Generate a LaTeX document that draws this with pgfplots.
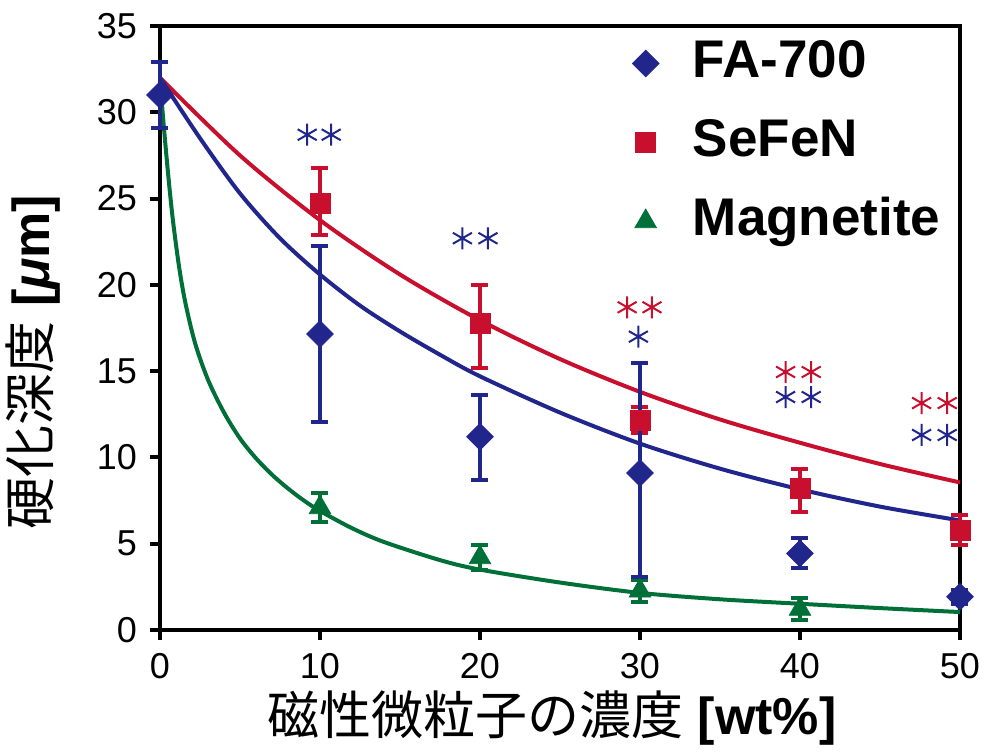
\documentclass[border=0pt]{standalone}
\usepackage{pgfplots}
\pgfplotsset{compat=1.18}
\usepackage{fontspec}
\setmainfont{Liberation Sans}
\newfontfamily\jp{Noto Sans CJK JP}
\definecolor{cblue}{RGB}{32,38,140}
\definecolor{cred}{RGB}{200,16,46}
\definecolor{cgreen}{RGB}{0,112,56}
\pgfplotsset{myerr/.style={error bars/y dir=both, error bars/y explicit, error bars/error mark=|,
  error bars/error bar style={line width=2pt},
  error bars/error mark options={line width=2pt, mark size=4.25pt}}}
\begin{document}
\begin{tikzpicture}
\useasboundingbox (-80pt,-60.5pt) rectangle (413.5pt,315pt);
\begin{axis}[
  at={(0,0)}, anchor=south west,
  scale only axis, width=400pt, height=302pt,
  xmin=0, xmax=50, ymin=0, ymax=35,
  xtick={0,10,...,50}, ytick={0,5,...,35},
  xtick pos=bottom, ytick pos=left,
  tick align=outside, major tick length=5pt,
  axis line style={line width=2pt},
  every tick/.style={black, line width=2pt},
  /pgf/number format/assume math mode=true,
  tick label style={font=\fontsize{18}{20}\selectfont},
  yticklabel style={xshift=-3pt},
  xticklabel style={yshift=-3pt},
  xlabel={\fontsize{26}{30}\selectfont{\jp 磁性微粒子の濃度} \textbf{[wt\%]}},
  ylabel={\fontsize{26}{30}\selectfont{\jp 硬化深度} \textbf{[\textit{μ}m]}},
  xlabel style={at={(axis description cs:0.49,-0.1457)}, anchor=center},
  ylabel style={at={(axis description cs:-0.15875,0.4437)}, anchor=center},
  clip=false,
  reverse legend,
  legend style={at={(axis description cs:0.5825,0.985)}, anchor=north west, draw=none, fill=none,
    font=\bfseries\fontsize{26.5}{30}\selectfont,
    nodes={text height=19pt, text depth=5pt, inner sep=0pt},
    row sep=15.5pt, /tikz/every odd column/.style={column sep=17pt}},
  legend cell align=left,
  legend image code/.code={\draw[#1] plot coordinates {(0pt,0pt)};},
]
% fitted curves
\addplot[cred, line width=2pt, smooth, forget plot] coordinates {
 (0,32.0) (5,27.5) (10,23.75) (15,20.6) (20,17.95) (25,15.7) (30,13.8) (35,12.2) (40,10.85) (45,9.62) (50,8.55)};
\addplot[cblue, line width=2pt, smooth, forget plot] coordinates {
 (0,32.0) (2.5,28.5) (5,25.3) (7.5,22.7) (10,20.6) (12.5,18.8) (15,17.3) (17.5,15.95) (20,14.7) (25,12.6) (30,10.8) (35,9.35) (40,8.15) (45,7.15) (50,6.35)};
\addplot[cgreen, line width=2pt, smooth, forget plot] coordinates {
 (0,32.0) (0.2,29.6) (0.5,26.5) (0.8,23.8) (1.2,21.0) (1.6,18.9) (2.2,16.6) (3,14.5) (4,12.6) (5,11.1) (6,9.95) (7,9.0) (8,8.2) (9,7.5) (10,6.9) (12,5.9) (14,5.1) (17.5,4.05) (20,3.5) (25,2.75) (30,2.15) (35,1.78) (40,1.52) (45,1.27) (50,1.04)};
% data points
\addplot[cgreen, only marks, mark=triangle*, mark size=6.2pt, mark options={solid, fill=cgreen}, myerr] coordinates {
 (10,7.1) +- (0,0.85)
 (20,4.2) +- (0,0.7)
 (30,2.27) +- (0,0.63)
 (40,1.21) +- (0,0.63)};
\addlegendentry{Magnetite}
\addplot[cred, only marks, mark=square*, mark size=5pt, mark options={solid, fill=cred}, myerr] coordinates {
 (10,24.7) += (0,2.1) -= (0,1.8)
 (20,17.75) += (0,2.25) -= (0,2.55)
 (30,12.15) +- (0,0.75)
 (40,8.21) += (0,1.1) -= (0,1.37)
 (50,5.79) +- (0,0.87)};
\addlegendentry{SeFeN}
\addplot[cblue, only marks, mark=square*, mark size=4.7pt, mark options={solid, fill=cblue, rotate=45}, myerr] coordinates {
 (0,31.0) +- (0,1.9)
 (10,17.15) +- (0,5.1)
 (20,11.2) += (0,2.4) -= (0,2.5)
 (30,9.1) += (0,6.4) -= (0,6.0)
 (40,4.44) +- (0,0.87)
 (50,1.93) +- (0,0.4)};
\addlegendentry{FA-700}
% significance asterisks
\addplot[cblue, only marks, mark=asterisk, mark size=5.5pt, mark options={line width=1pt}, forget plot] coordinates {
 (9.2,28.7) (10.7,28.7) (18.9,22.7) (20.5,22.7) (29.9,17.0)
 (39.1,13.5) (40.7,13.5) (47.6,11.3) (49.2,11.3)};
\addplot[cred, only marks, mark=asterisk, mark size=5.5pt, mark options={line width=1pt}, forget plot] coordinates {
 (29.2,18.7) (30.75,18.7) (39.1,14.95) (40.7,14.95) (47.6,13.15) (49.2,13.15)};
\end{axis}
\end{tikzpicture}
\end{document}
